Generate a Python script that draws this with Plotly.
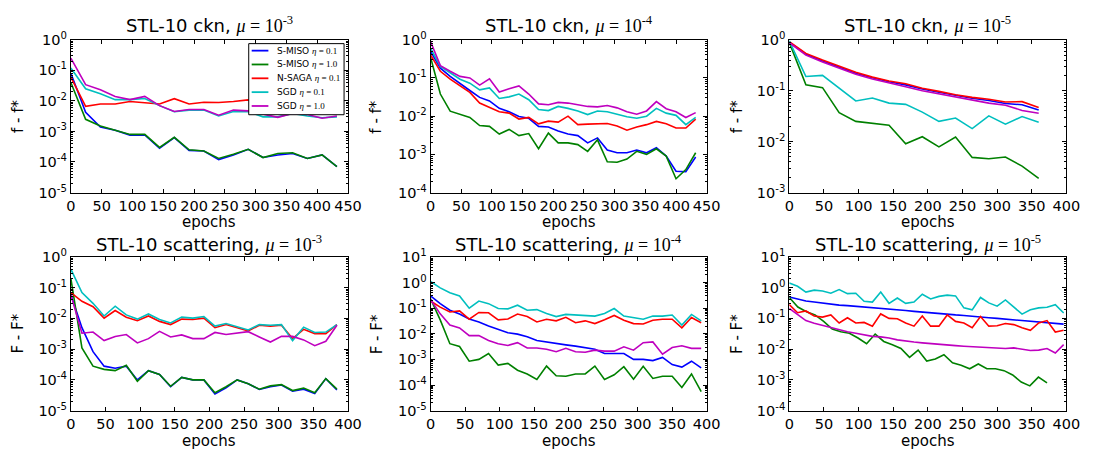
import numpy as np
import plotly.graph_objects as go

# ---------------- data ----------------
ep1 = [0, 24, 48, 72, 96, 120, 144, 168, 192, 216, 240, 264, 288, 312, 336, 360, 384, 408, 432]
s1_blue = [0.08, 0.0042, 0.0014, 0.0011, 0.00076, 0.00077, 0.00028, 0.00063, 0.00024, 0.00023, 0.00012, 0.00017, 0.00026, 0.00014, 0.00017, 0.00019, 0.00013, 0.00017, 0.00007]
s1_green = [0.04, 0.0025, 0.0015, 0.0011, 0.0008, 0.0008, 0.0003, 0.00064, 0.00025, 0.00023, 0.00013, 0.00018, 0.00026, 0.00014, 0.00019, 0.0002, 0.00013, 0.00017, 0.00007]
s1_red = [0.06, 0.0066, 0.0079, 0.0079, 0.0095, 0.0085, 0.0079, 0.0118, 0.0079, 0.009, 0.0089, 0.0095, 0.0108, 0.0102, 0.0098, 0.0105, 0.0095, 0.0099, 0.0102]
s1_cyan = [0.12, 0.025, 0.017, 0.011, 0.011, 0.012, 0.007, 0.0044, 0.005, 0.005, 0.0032, 0.0045, 0.0044, 0.003, 0.003, 0.0039, 0.0032, 0.0028, 0.003]
s1_mag = [0.25, 0.034, 0.023, 0.014, 0.011, 0.014, 0.007, 0.0045, 0.0052, 0.0052, 0.0034, 0.005, 0.0047, 0.0036, 0.0029, 0.0039, 0.0036, 0.0027, 0.0032]

ep2 = [16 * k for k in range(28)]
s2_blue = [0.5, 0.18, 0.11, 0.07, 0.047, 0.031, 0.025, 0.016, 0.013, 0.0098, 0.0088, 0.0054, 0.0052, 0.0041, 0.0034, 0.0031, 0.002, 0.0027, 0.0013, 0.0011, 0.0011, 0.0013, 0.0011, 0.0015, 0.0009, 0.00036, 0.00035, 0.00085]
s2_green = [0.35, 0.038, 0.0135, 0.011, 0.0093, 0.0057, 0.0054, 0.0034, 0.0045, 0.0031, 0.0035, 0.0014, 0.0036, 0.002, 0.002, 0.0018, 0.0012, 0.0024, 0.00064, 0.00062, 0.00075, 0.0012, 0.001, 0.0014, 0.0009, 0.00023, 0.0004, 0.0011]
s2_red = [0.4, 0.15, 0.093, 0.061, 0.042, 0.022, 0.017, 0.013, 0.012, 0.0084, 0.0093, 0.0063, 0.0074, 0.007, 0.01, 0.006, 0.0062, 0.0064, 0.0064, 0.0055, 0.0043, 0.0052, 0.006, 0.0073, 0.0063, 0.0049, 0.0049, 0.0084]
s2_cyan = [0.6, 0.2, 0.137, 0.093, 0.073, 0.049, 0.055, 0.029, 0.032, 0.038, 0.027, 0.015, 0.014, 0.018, 0.016, 0.0137, 0.011, 0.0137, 0.013, 0.011, 0.0097, 0.0088, 0.01, 0.016, 0.012, 0.0105, 0.006, 0.0093]
s2_mag = [0.9, 0.21, 0.15, 0.11, 0.1, 0.065, 0.095, 0.043, 0.052, 0.062, 0.038, 0.021, 0.02, 0.023, 0.022, 0.02, 0.018, 0.0175, 0.019, 0.0165, 0.013, 0.0112, 0.0137, 0.024, 0.0157, 0.013, 0.0092, 0.0124]

ep3 = [24 * k for k in range(16)]
s3_blue = [0.9, 0.52, 0.385, 0.29, 0.22, 0.18, 0.15, 0.13, 0.108, 0.093, 0.08, 0.071, 0.064, 0.056, 0.053, 0.042]
s3_green = [0.89, 0.13, 0.115, 0.037, 0.025, 0.023, 0.021, 0.0091, 0.0125, 0.0079, 0.0123, 0.0049, 0.0046, 0.005, 0.0033, 0.0019]
s3_red = [0.92, 0.54, 0.40, 0.30, 0.23, 0.185, 0.155, 0.137, 0.112, 0.097, 0.083, 0.074, 0.068, 0.06, 0.061, 0.047]
s3_cyan = [0.95, 0.19, 0.2, 0.11, 0.063, 0.072, 0.057, 0.054, 0.038, 0.025, 0.029, 0.018, 0.032, 0.022, 0.031, 0.024]
s3_mag = [0.88, 0.5, 0.365, 0.275, 0.21, 0.17, 0.145, 0.12, 0.1, 0.087, 0.074, 0.065, 0.057, 0.052, 0.041, 0.036]

ep4 = [16 * k for k in range(25)]
s4_blue = [0.06, 0.005, 0.00083, 0.00028, 0.00024, 0.00028, 0.0001, 0.0002, 0.00015, 0.00006, 0.00012, 0.0001, 0.0001, 0.000035, 0.000055, 0.0001, 0.000075, 0.000049, 0.00006, 0.000068, 0.000043, 0.00005, 0.000036, 0.00011, 0.000047]
s4_green = [0.2, 0.0011, 0.00028, 0.00022, 0.0002, 0.0003, 0.00009, 0.0002, 0.00015, 0.000062, 0.00012, 0.0001, 0.0001, 0.000038, 0.00006, 0.0001, 0.000075, 0.00005, 0.000064, 0.00007, 0.000045, 0.000054, 0.000038, 0.00011, 0.00005]
s4_red = [0.069, 0.036, 0.024, 0.0102, 0.018, 0.011, 0.0084, 0.012, 0.008, 0.0063, 0.0095, 0.0092, 0.0102, 0.005, 0.0063, 0.005, 0.0039, 0.006, 0.0056, 0.006, 0.0022, 0.0044, 0.0032, 0.0032, 0.0063]
s4_cyan = [0.4, 0.069, 0.031, 0.012, 0.025, 0.013, 0.0095, 0.014, 0.0092, 0.0071, 0.011, 0.0102, 0.0115, 0.0056, 0.0068, 0.0053, 0.0042, 0.0063, 0.006, 0.0063, 0.0019, 0.0052, 0.0035, 0.0036, 0.0063]
s4_mag = [0.06, 0.0033, 0.0036, 0.0019, 0.0026, 0.003, 0.0016, 0.0022, 0.0038, 0.0025, 0.0029, 0.0022, 0.0022, 0.0035, 0.003, 0.0034, 0.0037, 0.0025, 0.0017, 0.0026, 0.0026, 0.002, 0.0013, 0.0018, 0.006]

ep5 = [14 * k for k in range(29)]
s5_blue = [0.3, 0.15, 0.083, 0.059, 0.038, 0.029, 0.02, 0.015, 0.011, 0.0097, 0.0077, 0.0055, 0.0048, 0.004, 0.0037, 0.0033, 0.0028, 0.0025, 0.0017, 0.0017, 0.0017, 0.001, 0.001, 0.0009, 0.0012, 0.00063, 0.0005, 0.00085, 0.00047]
s5_green = [0.23, 0.035, 0.0041, 0.0032, 0.00085, 0.001, 0.0017, 0.0006, 0.0007, 0.00038, 0.00027, 0.000165, 0.00055, 0.00023, 0.00022, 0.00027, 0.00027, 0.00055, 0.000165, 0.00025, 0.00052, 0.00017, 0.00054, 0.00018, 0.00022, 0.00022, 0.00008, 0.00027, 0.000055]
s5_red = [0.19, 0.11, 0.071, 0.078, 0.037, 0.068, 0.066, 0.035, 0.038, 0.059, 0.047, 0.029, 0.037, 0.032, 0.044, 0.027, 0.032, 0.025, 0.035, 0.052, 0.034, 0.025, 0.024, 0.034, 0.037, 0.037, 0.017, 0.043, 0.027]
s5_cyan = [1.1, 0.62, 0.4, 0.3, 0.1, 0.19, 0.15, 0.097, 0.094, 0.13, 0.083, 0.088, 0.062, 0.047, 0.057, 0.054, 0.054, 0.049, 0.062, 0.097, 0.049, 0.044, 0.037, 0.049, 0.049, 0.054, 0.022, 0.057, 0.032]
s5_mag = [0.22, 0.06, 0.022, 0.017, 0.0085, 0.0085, 0.0055, 0.0041, 0.0035, 0.0045, 0.0028, 0.0028, 0.0025, 0.002, 0.0027, 0.002, 0.0019, 0.0023, 0.0021, 0.0021, 0.0031, 0.0023, 0.0045, 0.0048, 0.0016, 0.0029, 0.0034, 0.0027, 0.0027]

ep6 = [12 * k for k in range(34)]
ep6_green = [12.4 * k for k in range(31)]
s6_blue = [0.5, 0.42, 0.37, 0.34, 0.31, 0.29, 0.27, 0.26, 0.245, 0.23, 0.22, 0.21, 0.2, 0.19, 0.18, 0.17, 0.16, 0.15, 0.145, 0.14, 0.13, 0.125, 0.12, 0.11, 0.105, 0.1, 0.095, 0.09, 0.085, 0.08, 0.075, 0.072, 0.068, 0.065]
s6_green = [0.48, 0.235, 0.165, 0.13, 0.08, 0.045, 0.037, 0.033, 0.023, 0.015, 0.031, 0.0178, 0.014, 0.0105, 0.0054, 0.0093, 0.0041, 0.0048, 0.0066, 0.0036, 0.003, 0.0023, 0.0033, 0.0023, 0.0023, 0.002, 0.00145, 0.00085, 0.00064, 0.00123, 0.0008]
s6_red = [0.28, 0.153, 0.175, 0.12, 0.11, 0.13, 0.071, 0.105, 0.071, 0.074, 0.056, 0.14, 0.1, 0.097, 0.071, 0.056, 0.12, 0.056, 0.056, 0.13, 0.08, 0.071, 0.05, 0.115, 0.056, 0.058, 0.068, 0.063, 0.05, 0.041, 0.071, 0.085, 0.036, 0.041]
s6_cyan = [1.41, 1.11, 0.72, 0.83, 0.78, 0.66, 0.87, 0.64, 0.66, 0.36, 0.34, 0.72, 0.31, 0.46, 0.31, 0.34, 0.61, 0.43, 0.52, 0.57, 0.54, 0.22, 0.19, 0.48, 0.32, 0.25, 0.4, 0.23, 0.138, 0.19, 0.22, 0.23, 0.28, 0.15]
s6_mag = [0.21, 0.13, 0.085, 0.07, 0.059, 0.05, 0.044, 0.037, 0.033, 0.029, 0.026, 0.025, 0.023, 0.02, 0.018, 0.017, 0.016, 0.015, 0.014, 0.0138, 0.013, 0.0125, 0.012, 0.0115, 0.011, 0.011, 0.0105, 0.011, 0.0098, 0.009, 0.0093, 0.0105, 0.0075, 0.014]

series_names = ["S-MISO", "S-MISO", "N-SAGA", "SGD", "SGD"]
series_eta = ["0.1", "1.0", "0.1", "0.1", "1.0"]
colors = ["#0000ff", "#008000", "#ff0000", "#00bfbf", "#bf00bf"]

panel_titles = ["STL-10 ckn", "STL-10 ckn", "STL-10 ckn",
                "STL-10 scattering", "STL-10 scattering", "STL-10 scattering"]
panel_mu = ["-3", "-4", "-5", "-3", "-4", "-5"]
ylabels = ["f - f*", "f - f*", "f - f*", "F - F*", "F - F*", "F - F*"]
xlabel = "epochs"
yranges = [(-5, 0), (-4, 0), (-3, 0), (-5, 0), (-5, 1), (-4, 1)]
xranges = [(0, 450), (0, 450), (0, 400), (0, 400), (0, 400), (0, 400)]

panels = [
    [(ep1, s1_blue), (ep1, s1_green), (ep1, s1_red), (ep1, s1_cyan), (ep1, s1_mag)],
    [(ep2, s2_blue), (ep2, s2_green), (ep2, s2_red), (ep2, s2_cyan), (ep2, s2_mag)],
    [(ep3, s3_blue), (ep3, s3_green), (ep3, s3_red), (ep3, s3_cyan), (ep3, s3_mag)],
    [(ep4, s4_blue), (ep4, s4_green), (ep4, s4_red), (ep4, s4_cyan), (ep4, s4_mag)],
    [(ep5, s5_blue), (ep5, s5_green), (ep5, s5_red), (ep5, s5_cyan), (ep5, s5_mag)],
    [(ep6, s6_blue), (ep6_green, s6_green), (ep6, s6_red), (ep6, s6_cyan), (ep6, s6_mag)],
]

# ---------------- layout geometry (pixels) ----------------
W, H = 1104, 459
col_px = [(67, 349), (433, 714), (798, 1080)]
row_px = [(31, 190), (257, 417)]
title_y = [15, 243]
xlabel_y = [221, 449]
ylabel_x = [13, 378, 745]
LEG_BOX = (248, 35, 345, 109)      # x0, y0, x1, y1 in pixels
LEG_ROW0, LEG_STEP = 42.3, 14.4
LEG_LINE_X = (251, 268)
LEG_TEXT_X = 275

FONT = "DejaVu Sans"
SERIF = "Liberation Serif"
TICK_SIZE = 14.5


def px(x):
    return x / W


def py(y):
    return 1 - y / H


fig = go.Figure()

for p in range(6):
    ax = p + 1
    for s, (xs, ys) in enumerate(panels[p]):
        name = f'{series_names[s]} η = {series_eta[s]}'
        fig.add_trace(go.Scatter(
            x=xs, y=ys, mode="lines", name=name,
            line=dict(color=colors[s], width=1.6),
            xaxis=f"x{ax}", yaxis=f"y{ax}",
            showlegend=False,
        ))

layout = dict(
    width=W, height=H,
    margin=dict(l=0, r=0, t=0, b=0),
    paper_bgcolor="white", plot_bgcolor="white",
    font=dict(family=FONT, size=13, color="black"),
    showlegend=False,
)

annotations = []
shapes = []
for p in range(6):
    r, c = divmod(p, 3)
    x0, x1 = col_px[c]
    y0, y1 = row_px[r]
    lo, hi = yranges[p]
    tv = [10.0 ** k for k in range(lo, hi + 1)]
    tt = [f"10<sup>{k}</sup>" for k in range(lo, hi + 1)]
    minor_vals = [m * 10.0 ** k for k in range(lo, hi) for m in range(2, 10)]
    sfx = "" if p == 0 else str(p + 1)
    layout["xaxis" + sfx] = dict(
        domain=[px(x0), px(x1)], anchor="y" + str(p + 1),
        range=list(xranges[p]), dtick=50, tick0=0,
        showline=True, linecolor="black", linewidth=1, mirror="allticks",
        ticks="inside", ticklen=4, tickcolor="black",
        showgrid=False, zeroline=False,
        tickfont=dict(family=FONT, size=TICK_SIZE, color="black"),
    )
    layout["yaxis" + sfx] = dict(
        domain=[py(y1), py(y0)], anchor="x" + str(p + 1),
        type="log", range=[lo, hi],
        tickmode="array", tickvals=tv, ticktext=tt,
        showline=True, linecolor="black", linewidth=1, mirror="allticks",
        ticks="inside", ticklen=4, tickcolor="black",
        showgrid=False, zeroline=False,
        tickfont=dict(family=FONT, size=TICK_SIZE, color="black"),
        minor=dict(tickmode="array", tickvals=minor_vals, ticks="inside",
                   ticklen=2, tickcolor="black", showgrid=False),
    )
    annotations.append(dict(
        xref="paper", yref="paper", x=px((x0 + x1) / 2), y=py(title_y[r]),
        xanchor="center", yanchor="middle", showarrow=False,
        text=(f'{panel_titles[p]}, <span style="font-family:{SERIF}"><i>μ</i> = 10'
              f'<sup>{panel_mu[p]}</sup></span>'),
        font=dict(family=FONT, size=18, color="black"),
    ))
    annotations.append(dict(
        xref="paper", yref="paper", x=px((x0 + x1) / 2), y=py(xlabel_y[r]),
        xanchor="center", yanchor="middle", showarrow=False,
        text=xlabel, font=dict(family=FONT, size=15, color="black"),
    ))
    annotations.append(dict(
        xref="paper", yref="paper", x=px(ylabel_x[c]), y=py((y0 + y1) / 2),
        xanchor="center", yanchor="middle", showarrow=False, textangle=-90,
        text=ylabels[p], font=dict(family=FONT, size=15, color="black"),
    ))

# legend box (first panel)
lx0, ly0, lx1, ly1 = LEG_BOX
shapes.append(dict(type="rect", xref="paper", yref="paper",
                   x0=px(lx0), x1=px(lx1), y0=py(ly1), y1=py(ly0),
                   fillcolor="white", line=dict(color="black", width=1), layer="above"))
for s in range(5):
    yy = LEG_ROW0 + LEG_STEP * s
    shapes.append(dict(type="line", xref="paper", yref="paper",
                       x0=px(LEG_LINE_X[0]), x1=px(LEG_LINE_X[1]), y0=py(yy), y1=py(yy),
                       line=dict(color=colors[s], width=1.8), layer="above"))
    annotations.append(dict(
        xref="paper", yref="paper", x=px(LEG_TEXT_X), y=py(yy),
        xanchor="left", yanchor="middle", showarrow=False,
        text=(f'{series_names[s]} <span style="font-family:{SERIF}"><i>η</i> = '
              f'{series_eta[s]}</span>'),
        font=dict(family=FONT, size=9, color="black"),
    ))

layout["annotations"] = annotations
layout["shapes"] = shapes
fig.update_layout(**layout)
fig.write_html("out.html")
